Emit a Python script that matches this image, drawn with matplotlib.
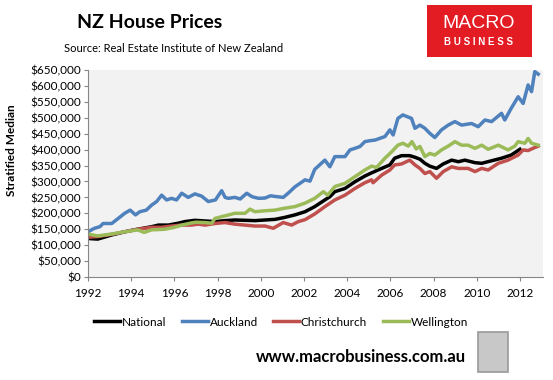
import matplotlib
matplotlib.use('Agg')
import matplotlib.pyplot as plt
import numpy as np
from matplotlib.patches import Rectangle
from matplotlib.ticker import FuncFormatter

plt.rcParams['font.family'] = 'Lato'

# Stratified median prices, $ thousands, sampled off the chart (decimal years)
national_t = [1992.0, 1992.45, 1993.1, 1993.7, 1994.3, 1994.95, 1995.26, 1995.72, 1996.18, 1996.49,
              1996.95, 1997.4, 1997.88, 1998.34, 1998.8, 1999.27, 1999.73, 2000.2, 2000.66, 2001.1,
              2001.58, 2002.05, 2002.5, 2002.97, 2003.2, 2003.43, 2003.9, 2004.36, 2004.82, 2005.13,
              2005.6, 2005.98, 2006.2, 2006.52, 2006.9, 2007.14, 2007.37, 2007.6, 2007.83, 2008.14,
              2008.45, 2008.84, 2009.15, 2009.45, 2009.92, 2010.23, 2010.69, 2011.15, 2011.6, 2012.0]
national_v = [121, 119, 132, 142, 150, 158, 163, 163, 169, 174,
              178, 176, 174, 177, 179, 178, 177, 179, 181, 187,
              195, 205, 221, 242, 252, 268, 278, 299, 317, 327,
              341, 352, 373, 381, 381, 376, 370, 357, 348, 341,
              355, 367, 362, 367, 359, 357, 365, 373, 383, 401]

auckland_t = [1992.0, 1992.3, 1992.55, 1992.7, 1993.1, 1993.4, 1993.7, 1993.95, 1994.2, 1994.4,
              1994.7, 1994.95, 1995.18, 1995.41, 1995.64, 1995.87, 1996.1, 1996.34, 1996.64, 1996.95,
              1997.26, 1997.57, 1997.9, 1998.19, 1998.35, 1998.5, 1998.8, 1999.05, 1999.35, 1999.6,
              1999.9, 2000.2, 2000.45, 2000.66, 2001.04, 2001.3, 2001.58, 2002.05, 2002.28, 2002.5,
              2002.97, 2003.2, 2003.43, 2003.9, 2004.13, 2004.36, 2004.6, 2004.82, 2005.05, 2005.29,
              2005.75, 2005.98, 2006.13, 2006.35, 2006.58, 2006.98, 2007.14, 2007.37, 2007.6, 2007.83,
              2008.06, 2008.37, 2008.68, 2008.99, 2009.3, 2009.76, 2010.07, 2010.38, 2010.69, 2011.15,
              2011.3, 2011.6, 2011.92, 2012.15, 2012.38, 2012.54, 2012.69, 2012.85]
auckland_v = [142, 153, 158, 168, 168, 184, 200, 210, 195, 205,
              210, 226, 237, 257, 242, 247, 242, 263, 250, 261,
              254, 237, 242, 271, 250, 247, 250, 245, 263, 252,
              247, 248, 255, 253, 250, 265, 283, 305, 301, 338,
              367, 346, 378, 378, 399, 404, 410, 425, 428, 430,
              441, 462, 446, 498, 509, 498, 467, 477, 467, 451,
              438, 462, 477, 488, 477, 482, 472, 493, 488, 514,
              493, 530, 566, 545, 603, 582, 645, 637]

christchurch_t = [1992.0, 1992.45, 1993.1, 1993.7, 1994.3, 1994.95, 1995.41, 1995.87, 1996.34, 1996.8,
                  1997.1, 1997.42, 1997.88, 1998.34, 1998.8, 1999.27, 1999.73, 2000.2, 2000.58, 2001.04,
                  2001.43, 2001.74, 2002.05, 2002.5, 2002.97, 2003.43, 2003.9, 2004.36, 2004.82, 2005.13,
                  2005.2, 2005.6, 2005.98, 2006.2, 2006.52, 2006.9, 2007.14, 2007.37, 2007.6, 2007.83,
                  2008.14, 2008.45, 2008.84, 2009.15, 2009.6, 2009.92, 2010.23, 2010.53, 2011.0, 2011.45,
                  2011.92, 2012.15, 2012.38, 2012.6, 2012.85]
christchurch_v = [125, 127, 134, 142, 150, 156, 156, 160, 163, 163,
                  166, 163, 168, 171, 166, 163, 160, 160, 153, 171,
                  163, 174, 180, 198, 221, 242, 257, 278, 296, 305,
                  296, 320, 336, 352, 355, 367, 352, 341, 325, 331,
                  310, 331, 346, 341, 341, 331, 341, 336, 357, 367,
                  383, 399, 397, 404, 411]

wellington_t = [1992.0, 1992.45, 1993.1, 1993.7, 1994.3, 1994.6, 1994.95, 1995.56, 1996.0, 1996.34,
                1996.8, 1997.0, 1997.42, 1997.73, 1997.88, 1998.34, 1998.8, 1999.27, 1999.5, 1999.73,
                2000.2, 2000.66, 2001.1, 2001.58, 2002.05, 2002.5, 2002.9, 2003.1, 2003.43, 2003.9,
                2004.36, 2004.82, 2005.13, 2005.36, 2005.75, 2006.06, 2006.35, 2006.58, 2006.83, 2007.0,
                2007.2, 2007.37, 2007.6, 2007.83, 2008.06, 2008.37, 2008.68, 2008.99, 2009.3, 2009.6,
                2009.92, 2010.23, 2010.53, 2011.0, 2011.45, 2011.76, 2011.92, 2012.23, 2012.38, 2012.54,
                2012.85]
wellington_v = [135, 129, 135, 142, 148, 140, 148, 150, 156, 163,
                170, 172, 171, 169, 184, 192, 200, 200, 213, 205,
                208, 210, 216, 221, 232, 247, 268, 257, 284, 294,
                315, 336, 348, 344, 373, 393, 414, 420, 411, 425,
                402, 410, 378, 388, 383, 399, 411, 425, 414, 414,
                404, 414, 401, 414, 399, 411, 425, 420, 435, 420,
                414]

series = [
    ('National', national_t, national_v, '#000000'),
    ('Auckland', auckland_t, auckland_v, '#4F81BD'),
    ('Christchurch', christchurch_t, christchurch_v, '#C0504D'),
    ('Wellington', wellington_t, wellington_v, '#9BBB59'),
]
year_ticks = list(range(1992, 2013, 2))

fig = plt.figure(figsize=(5.53, 3.80), dpi=100)
fig.patch.set_facecolor('white')
ax = fig.add_axes([88 / 553, 1 - 277 / 380, 455 / 553, 207 / 380])
ax.set_facecolor('#F2F2F2')

for name, t, v, col in series:
    ax.plot(t, np.array(v) * 1000, color=col, lw=2.5, label=name, solid_joinstyle='round')

ax.set_xlim(1992, 2013.07)
ax.set_ylim(0, 650000)
ax.set_xticks(year_ticks)
ax.set_yticks(np.arange(0, 650001, 50000))
ax.yaxis.set_major_formatter(FuncFormatter(lambda x, p: f'${x:,.0f}'))
ax.tick_params(axis='both', labelsize=8.5, length=3, color='#868686', pad=2)
ax.tick_params(axis='x', pad=5)
for s in ['top', 'right']:
    ax.spines[s].set_visible(False)
for s in ['left', 'bottom']:
    ax.spines[s].set_color('#868686')

fig.text(12 / 553, 1 - 150 / 380, 'Stratified Median', rotation=90, fontsize=8.5,
         fontweight='bold', ha='center', va='center')

# Titles
fig.text(150 / 553, 1 - 23 / 380, 'NZ House Prices', fontsize=14, fontweight='bold',
         ha='center', va='center')
fig.text(174 / 553, 1 - 48 / 380, 'Source: Real Estate Institute of New Zealand', fontsize=8,
         ha='center', va='center')

# Legend
fig.legend(loc='center', bbox_to_anchor=(281 / 553, 1 - 322 / 380), ncol=4, frameon=False,
           fontsize=8.5, handlelength=2.2, handletextpad=0.15, columnspacing=1.3)

# MacroBusiness badge
fig.patches.append(Rectangle((427 / 553, 1 - 57 / 380), 105 / 553, 52 / 380,
                             transform=fig.transFigure, facecolor='#E31B23', edgecolor='none'))
fig.text(479 / 553, 1 - 23 / 380, 'MACRO', fontsize=14, color='white', ha='center', va='center',
         family='Liberation Sans')
fig.text(479 / 553, 1 - 42 / 380, 'B U S I N E S S', fontsize=7, color='white', ha='center',
         va='center', family='Liberation Sans', fontweight='bold')

fig.text(466 / 553, 1 - 357 / 380, 'www.macrobusiness.com.au', fontsize=12, fontweight='bold',
         ha='right', va='center')
fig.patches.append(Rectangle((478 / 553, 1 - 372 / 380), 30 / 553, 40 / 380,
                             transform=fig.transFigure, facecolor='#C8C8C8', edgecolor='#9A9A9A', lw=1.2))

fig.savefig('out.png', dpi=100)
